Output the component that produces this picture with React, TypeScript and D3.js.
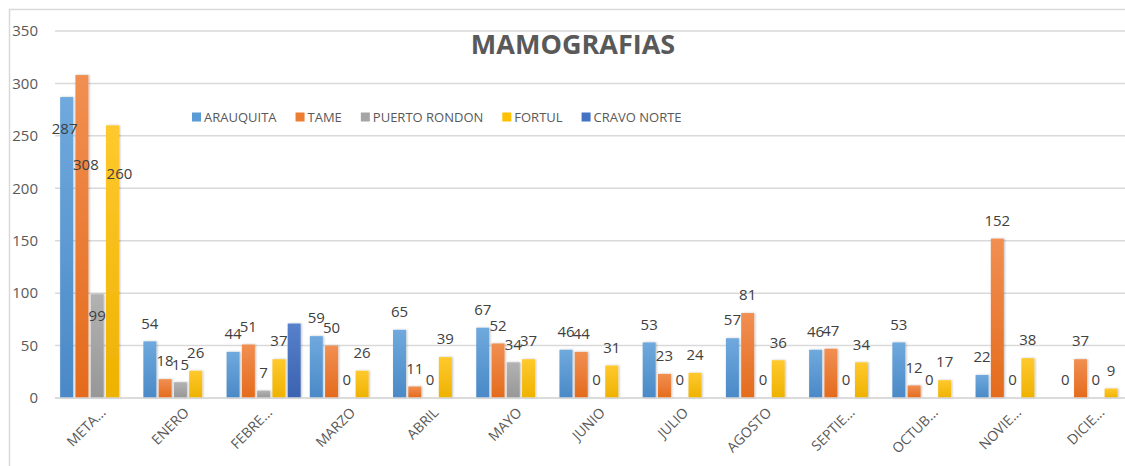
import React, { useEffect, useRef } from 'react';
import * as d3 from 'd3';

const categories = ['META...', 'ENERO', 'FEBRE...', 'MARZO', 'ABRIL', 'MAYO', 'JUNIO', 'JULIO', 'AGOSTO', 'SEPTIE...', 'OCTUB...', 'NOVIE...', 'DICIE...'];

const seriesNames = ['ARAUQUITA', 'TAME', 'PUERTO RONDON', 'FORTUL', 'CRAVO NORTE'];

const arauquita = [287, 54, 44, 59, 65, 67, 46, 53, 57, 46, 53, 22, 0];
const tame = [308, 18, 51, 50, 11, 52, 44, 23, 81, 47, 12, 152, 37];
const puertoRondon = [99, 15, 7, 0, 0, 34, 0, 0, 0, 0, 0, 0, 0];
const fortul = [260, 26, 37, 26, 39, 37, 31, 24, 36, 34, 17, 38, 9];
const cravoNorte = [0, 0, 71, 0, 0, 0, 0, 0, 0, 0, 0, 0, 0];

const yTicks = [0, 50, 100, 150, 200, 250, 300, 350];

// colours: [top, bottom] of the bar gradient
const colors = [
  ['#6fa9dd', '#4a89c7'],
  ['#f18f52', '#e46b1c'],
  ['#b2b2b2', '#979797'],
  ['#ffc92e', '#eeb200'],
  ['#5781cc', '#3a62b0'],
];
const legendColors = ['#5b9bd5', '#ed7d31', '#a5a5a5', '#ffc000', '#4472c4'];

// labels that were dragged by hand in the original (pixels)
const labelNudges: Record<string, [number, number]> = {
  '0-0': [-2, 50],
  '0-1': [4, 108],
  '0-2': [0, 40],
  '0-3': [7, 66],
};

const App = () => {
  const ref = useRef<SVGSVGElement>(null);

  useEffect(() => {
    const svg = d3.select(ref.current);
    svg.selectAll('*').remove();
    const W = 1125, H = 466;
    const font = '"Open Sans", sans-serif';
    const values = [arauquita, tame, puertoRondon, fortul, cravoNorte];

    const defs = svg.append('defs');
    colors.forEach((c, i) => {
      const g = defs.append('linearGradient').attr('id', `grad${i}`)
        .attr('x1', 0).attr('y1', 0).attr('x2', 0).attr('y2', 1);
      g.append('stop').attr('offset', '0%').attr('stop-color', c[0]);
      g.append('stop').attr('offset', '100%').attr('stop-color', c[1]);
    });
    defs.append('filter').attr('id', 'shadow')
      .attr('x', '-30%').attr('y', '-10%').attr('width', '160%').attr('height', '120%')
      .append('feDropShadow').attr('dx', 1).attr('dy', 0).attr('stdDeviation', 1)
      .attr('flood-color', '#000').attr('flood-opacity', 0.25);

    svg.append('rect').attr('width', W).attr('height', H).attr('fill', '#fff');
    // chart area border (cut off on the right and bottom)
    svg.append('path').attr('d', `M9.5,${H} V9.5 H${W}`)
      .attr('fill', 'none').attr('stroke', '#d9d9d9').attr('stroke-width', 1.5);

    const y = d3.scaleLinear().domain([0, 350]).range([398, 31]);
    const x = d3.scaleBand().domain(categories).range([51, 1142]).padding(0.11);
    const xs = d3.scaleBand().domain(seriesNames).range([0, x.bandwidth()]).paddingInner(0.15);

    const grid = svg.append('g');
    grid.selectAll('line').data(yTicks).enter().append('line')
      .attr('x1', 55).attr('x2', W)
      .attr('y1', d => y(d)).attr('y2', d => y(d))
      .attr('stroke', '#d9d9d9').attr('stroke-width', 1.5);

    svg.append('g').selectAll('text').data(yTicks).enter().append('text')
      .attr('x', 38).attr('y', d => y(d)).attr('dy', '0.35em')
      .attr('text-anchor', 'end').attr('font-family', font).attr('font-size', 15)
      .attr('fill', '#595959').text(d => d);

    const bars = svg.append('g');
    values.forEach((vals, s) => {
      bars.selectAll(`.bar${s}`).data(vals).enter().append('rect')
        .attr('class', `bar${s}`)
        .attr('x', (d, i) => x(categories[i])! + xs(seriesNames[s])!)
        .attr('width', xs.bandwidth())
        .attr('y', d => y(d))
        .attr('height', d => y(0) - y(d))
        .attr('fill', `url(#grad${s})`)
        .attr('filter', 'url(#shadow)');
    });

    const labels = svg.append('g');
    values.slice(0, 4).forEach((vals, s) => {
      labels.selectAll(`.lab${s}`).data(vals).enter().append('text')
        .attr('class', `lab${s}`)
        .attr('x', (d, i) => x(categories[i])! + xs(seriesNames[s])! + xs.bandwidth() / 2 + (labelNudges[`${i}-${s}`]?.[0] ?? 0))
        .attr('y', (d, i) => y(d) - 18 + (labelNudges[`${i}-${s}`]?.[1] ?? 0))
        .attr('dy', '0.35em')
        .attr('text-anchor', 'middle').attr('font-family', font).attr('font-size', 15)
        .attr('fill', '#404040').text(d => d);
    });

    // axis line
    svg.append('line').attr('x1', 55).attr('x2', W).attr('y1', y(0)).attr('y2', y(0))
      .attr('stroke', '#d9d9d9').attr('stroke-width', 1.5);

    svg.append('g').selectAll('text').data(categories).enter().append('text')
      .attr('transform', d => `translate(${x(d)! + x.bandwidth() / 2 + 6},${410}) rotate(-45)`)
      .attr('dy', '0.35em')
      .attr('text-anchor', 'end').attr('font-family', font).attr('font-size', 14)
      .attr('fill', '#595959').text(d => d);

    svg.append('text').attr('x', 573).attr('y', 45).attr('dy', '0.35em')
      .attr('text-anchor', 'middle').attr('font-family', font).attr('font-weight', 700)
      .attr('font-size', 27).attr('fill', '#595959').text('MAMOGRAFIAS');

    // legend
    const legend = svg.append('g');
    let lx = 192;
    seriesNames.forEach((name, i) => {
      legend.append('rect').attr('x', lx).attr('y', 112.5).attr('width', 9).attr('height', 9)
        .attr('fill', legendColors[i]);
      const t = legend.append('text').attr('x', lx + 12).attr('y', 117).attr('dy', '0.35em')
        .attr('font-family', font).attr('font-size', 13).attr('fill', '#595959').text(name);
      const w = (t.node() as SVGTextElement).getComputedTextLength();
      lx += 12 + w + 19;
    });
  }, []);

  return (
    <svg ref={ref} width={1125} height={466}
      style={{ position: 'absolute', left: 0, top: 0, display: 'block' }} />
  );
};

export default App;
